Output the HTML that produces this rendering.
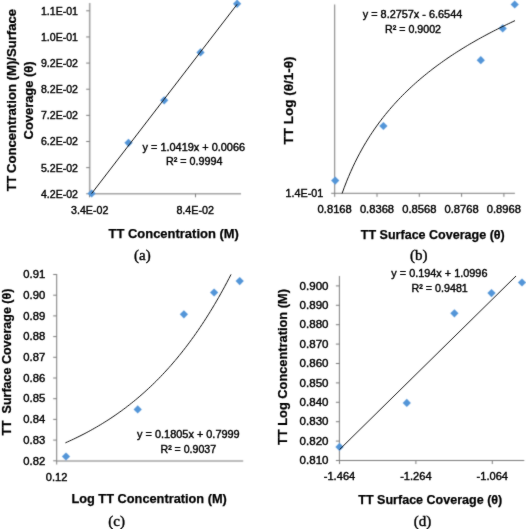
<!DOCTYPE html>
<html><head><meta charset="utf-8"><title>Adsorption isotherm plots</title>
<style>
html,body{margin:0;padding:0;background:#fff;}
body{width:526px;height:529px;overflow:hidden;font-family:"Liberation Sans",sans-serif;}
svg{display:block;}
</style></head><body>
<svg width="526" height="529" viewBox="0 0 526 529">
<defs><filter id="tsoft" x="0" y="0" width="526" height="529" filterUnits="userSpaceOnUse"><feConvolveMatrix order="3" kernelMatrix="1 3 1 3 40 3 1 3 1" divisor="56" edgeMode="duplicate" preserveAlpha="false"/></filter><filter id="soft" x="0" y="0" width="526" height="529" filterUnits="userSpaceOnUse"><feConvolveMatrix order="3" kernelMatrix="1 5 1 5 24 5 1 5 1" divisor="48" edgeMode="duplicate" preserveAlpha="false"/></filter></defs>
<rect width="526" height="529" fill="#fff"/>
<g filter="url(#soft)">
<line x1="89.7" y1="3" x2="89.7" y2="193.8" stroke="#a4a4a4" stroke-width="1.6"/>
<line x1="89.7" y1="193.8" x2="241" y2="193.8" stroke="#a4a4a4" stroke-width="1.6"/>
<line x1="86.2" y1="10.8" x2="89.7" y2="10.8" stroke="#7c7c7c" stroke-width="1.0"/>
<line x1="86.2" y1="36.94" x2="89.7" y2="36.94" stroke="#7c7c7c" stroke-width="1.0"/>
<line x1="86.2" y1="63.08" x2="89.7" y2="63.08" stroke="#7c7c7c" stroke-width="1.0"/>
<line x1="86.2" y1="89.22" x2="89.7" y2="89.22" stroke="#7c7c7c" stroke-width="1.0"/>
<line x1="86.2" y1="115.36" x2="89.7" y2="115.36" stroke="#7c7c7c" stroke-width="1.0"/>
<line x1="86.2" y1="141.5" x2="89.7" y2="141.5" stroke="#7c7c7c" stroke-width="1.0"/>
<line x1="86.2" y1="167.64000000000001" x2="89.7" y2="167.64000000000001" stroke="#7c7c7c" stroke-width="1.0"/>
<line x1="86.2" y1="193.78000000000003" x2="89.7" y2="193.78000000000003" stroke="#7c7c7c" stroke-width="1.0"/>
<line x1="89.5" y1="193.8" x2="89.5" y2="197.3" stroke="#7c7c7c" stroke-width="1.0"/>
<line x1="195.5" y1="193.8" x2="195.5" y2="197.3" stroke="#7c7c7c" stroke-width="1.0"/>
<path d="M91.6 189.4L95.69999999999999 193.5L91.6 197.6L87.5 193.5Z" fill="#5295D8"/>
<path d="M128.5 138.70000000000002L132.6 142.8L128.5 146.9L124.4 142.8Z" fill="#5295D8"/>
<path d="M164.2 96.2L168.29999999999998 100.3L164.2 104.39999999999999L160.1 100.3Z" fill="#5295D8"/>
<path d="M200.5 48.3L204.6 52.4L200.5 56.5L196.4 52.4Z" fill="#5295D8"/>
<path d="M237.1 -0.2999999999999998L241.2 3.8L237.1 7.8999999999999995L233.0 3.8Z" fill="#5295D8"/>
<line x1="334.7" y1="4.5" x2="334.7" y2="193.3" stroke="#7c7c7c" stroke-width="1.0"/>
<line x1="334.7" y1="193.3" x2="514.9" y2="193.3" stroke="#7c7c7c" stroke-width="1.0"/>
<line x1="331.2" y1="193.3" x2="334.7" y2="193.3" stroke="#7c7c7c" stroke-width="1.0"/>
<line x1="334.7" y1="193.3" x2="334.7" y2="196.8" stroke="#7c7c7c" stroke-width="1.0"/>
<line x1="377.0" y1="193.3" x2="377.0" y2="196.8" stroke="#7c7c7c" stroke-width="1.0"/>
<line x1="419.29999999999995" y1="193.3" x2="419.29999999999995" y2="196.8" stroke="#7c7c7c" stroke-width="1.0"/>
<line x1="461.59999999999997" y1="193.3" x2="461.59999999999997" y2="196.8" stroke="#7c7c7c" stroke-width="1.0"/>
<line x1="503.9" y1="193.3" x2="503.9" y2="196.8" stroke="#7c7c7c" stroke-width="1.0"/>
<path d="M335.2 176.5L339.3 180.6L335.2 184.7L331.09999999999997 180.6Z" fill="#5295D8"/>
<path d="M383.4 121.9L387.5 126L383.4 130.1L379.29999999999995 126Z" fill="#5295D8"/>
<path d="M480.8 56.1L484.90000000000003 60.2L480.8 64.3L476.7 60.2Z" fill="#5295D8"/>
<path d="M502.7 24.299999999999997L506.8 28.4L502.7 32.5L498.59999999999997 28.4Z" fill="#5295D8"/>
<path d="M514.7 0.40000000000000036L518.8000000000001 4.5L514.7 8.6L510.6 4.5Z" fill="#5295D8"/>
<line x1="56.7" y1="274" x2="56.7" y2="461" stroke="#7c7c7c" stroke-width="1.0"/>
<line x1="56.7" y1="461" x2="243.2" y2="461" stroke="#a4a4a4" stroke-width="1.6"/>
<line x1="53.2" y1="274.5" x2="56.7" y2="274.5" stroke="#7c7c7c" stroke-width="1.0"/>
<line x1="53.2" y1="295.2" x2="56.7" y2="295.2" stroke="#7c7c7c" stroke-width="1.0"/>
<line x1="53.2" y1="315.9" x2="56.7" y2="315.9" stroke="#7c7c7c" stroke-width="1.0"/>
<line x1="53.2" y1="336.6" x2="56.7" y2="336.6" stroke="#7c7c7c" stroke-width="1.0"/>
<line x1="53.2" y1="357.3" x2="56.7" y2="357.3" stroke="#7c7c7c" stroke-width="1.0"/>
<line x1="53.2" y1="378.0" x2="56.7" y2="378.0" stroke="#7c7c7c" stroke-width="1.0"/>
<line x1="53.2" y1="398.7" x2="56.7" y2="398.7" stroke="#7c7c7c" stroke-width="1.0"/>
<line x1="53.2" y1="419.4" x2="56.7" y2="419.4" stroke="#7c7c7c" stroke-width="1.0"/>
<line x1="53.2" y1="440.1" x2="56.7" y2="440.1" stroke="#7c7c7c" stroke-width="1.0"/>
<line x1="53.2" y1="460.79999999999995" x2="56.7" y2="460.79999999999995" stroke="#7c7c7c" stroke-width="1.0"/>
<line x1="56.7" y1="461" x2="56.7" y2="464.5" stroke="#7c7c7c" stroke-width="1.0"/>
<path d="M66 452.4L70.1 456.5L66 460.6L61.9 456.5Z" fill="#5295D8"/>
<path d="M137.7 405.29999999999995L141.79999999999998 409.4L137.7 413.5L133.6 409.4Z" fill="#5295D8"/>
<path d="M183.9 310.2L188.0 314.3L183.9 318.40000000000003L179.8 314.3Z" fill="#5295D8"/>
<path d="M214.1 288.4L218.2 292.5L214.1 296.6L210.0 292.5Z" fill="#5295D8"/>
<path d="M239.7 277.0L243.79999999999998 281.1L239.7 285.20000000000005L235.6 281.1Z" fill="#5295D8"/>
<line x1="339.4" y1="276" x2="339.4" y2="460.5" stroke="#7c7c7c" stroke-width="1.0"/>
<line x1="339.4" y1="460.5" x2="524.3" y2="460.5" stroke="#7c7c7c" stroke-width="1.0"/>
<line x1="335.9" y1="285.9" x2="339.4" y2="285.9" stroke="#7c7c7c" stroke-width="1.0"/>
<line x1="335.9" y1="305.29999999999995" x2="339.4" y2="305.29999999999995" stroke="#7c7c7c" stroke-width="1.0"/>
<line x1="335.9" y1="324.7" x2="339.4" y2="324.7" stroke="#7c7c7c" stroke-width="1.0"/>
<line x1="335.9" y1="344.09999999999997" x2="339.4" y2="344.09999999999997" stroke="#7c7c7c" stroke-width="1.0"/>
<line x1="335.9" y1="363.5" x2="339.4" y2="363.5" stroke="#7c7c7c" stroke-width="1.0"/>
<line x1="335.9" y1="382.9" x2="339.4" y2="382.9" stroke="#7c7c7c" stroke-width="1.0"/>
<line x1="335.9" y1="402.29999999999995" x2="339.4" y2="402.29999999999995" stroke="#7c7c7c" stroke-width="1.0"/>
<line x1="335.9" y1="421.69999999999993" x2="339.4" y2="421.69999999999993" stroke="#7c7c7c" stroke-width="1.0"/>
<line x1="335.9" y1="441.09999999999997" x2="339.4" y2="441.09999999999997" stroke="#7c7c7c" stroke-width="1.0"/>
<line x1="335.9" y1="460.5" x2="339.4" y2="460.5" stroke="#7c7c7c" stroke-width="1.0"/>
<line x1="339.5" y1="460.5" x2="339.5" y2="464.0" stroke="#7c7c7c" stroke-width="1.0"/>
<line x1="415.9" y1="460.5" x2="415.9" y2="464.0" stroke="#7c7c7c" stroke-width="1.0"/>
<line x1="492.3" y1="460.5" x2="492.3" y2="464.0" stroke="#7c7c7c" stroke-width="1.0"/>
<path d="M339.5 442.79999999999995L343.6 446.9L339.5 451.0L335.4 446.9Z" fill="#5295D8"/>
<path d="M406.8 398.79999999999995L410.90000000000003 402.9L406.8 407.0L402.7 402.9Z" fill="#5295D8"/>
<path d="M454.4 309.2L458.5 313.3L454.4 317.40000000000003L450.29999999999995 313.3Z" fill="#5295D8"/>
<path d="M491.5 289.0L495.6 293.1L491.5 297.20000000000005L487.4 293.1Z" fill="#5295D8"/>
<path d="M522 278.4L526.1 282.5L522 286.6L517.9 282.5Z" fill="#5295D8"/>
</g>
<g filter="url(#tsoft)">
<path d="M91.60 193.60 L237.20 4.20" fill="none" stroke="#151515" stroke-width="1.0" stroke-linejoin="round"/>
<path d="M342.10 193.44 L344.26 187.49 L346.42 181.89 L348.58 176.61 L350.75 171.60 L352.91 166.84 L355.07 162.31 L357.23 157.99 L359.39 153.86 L361.55 149.89 L363.71 146.09 L365.87 142.43 L368.04 138.91 L370.20 135.52 L372.36 132.24 L374.52 129.07 L376.68 126.01 L378.84 123.04 L381.00 120.16 L383.16 117.36 L385.33 114.64 L387.49 112.01 L389.65 109.44 L391.81 106.94 L393.97 104.50 L396.13 102.12 L398.29 99.81 L400.45 97.55 L402.62 95.34 L404.78 93.18 L406.94 91.07 L409.10 89.00 L411.26 86.98 L413.42 85.00 L415.58 83.06 L417.74 81.16 L419.91 79.30 L422.07 77.47 L424.23 75.68 L426.39 73.92 L428.55 72.19 L430.71 70.50 L432.87 68.83 L435.03 67.19 L437.19 65.58 L439.36 64.00 L441.52 62.44 L443.68 60.91 L445.84 59.40 L448.00 57.92 L450.16 56.46 L452.32 55.02 L454.49 53.60 L456.65 52.21 L458.81 50.83 L460.97 49.47 L463.13 48.13 L465.29 46.82 L467.45 45.51 L469.61 44.23 L471.77 42.97 L473.94 41.72 L476.10 40.48 L478.26 39.26 L480.42 38.06 L482.58 36.88 L484.74 35.70 L486.90 34.55 L489.06 33.40 L491.23 32.27 L493.39 31.15 L495.55 30.05 L497.71 28.96 L499.87 27.88 L502.03 26.81 L504.19 25.76 L506.36 24.71 L508.52 23.68 L510.68 22.66 L512.84 21.65 L515.00 20.65" fill="none" stroke="#151515" stroke-width="1.0" stroke-linejoin="round"/>
<path d="M65.40 442.83 L67.47 441.91 L69.54 440.98 L71.61 440.02 L73.68 439.06 L75.75 438.07 L77.82 437.06 L79.89 436.04 L81.96 434.99 L84.03 433.93 L86.10 432.84 L88.17 431.74 L90.24 430.61 L92.31 429.46 L94.38 428.29 L96.45 427.10 L98.52 425.89 L100.59 424.65 L102.66 423.39 L104.73 422.11 L106.80 420.80 L108.87 419.47 L110.94 418.11 L113.01 416.73 L115.08 415.32 L117.15 413.88 L119.22 412.42 L121.29 410.93 L123.36 409.41 L125.43 407.86 L127.50 406.28 L129.57 404.67 L131.64 403.04 L133.71 401.37 L135.78 399.67 L137.85 397.94 L139.92 396.17 L141.99 394.37 L144.06 392.54 L146.13 390.68 L148.20 388.77 L150.27 386.84 L152.34 384.86 L154.41 382.85 L156.48 380.80 L158.55 378.71 L160.62 376.58 L162.69 374.42 L164.76 372.21 L166.83 369.96 L168.90 367.66 L170.97 365.33 L173.04 362.94 L175.11 360.52 L177.18 358.05 L179.25 355.53 L181.32 352.96 L183.39 350.35 L185.46 347.68 L187.53 344.97 L189.60 342.21 L191.67 339.39 L193.74 336.52 L195.81 333.59 L197.88 330.61 L199.95 327.57 L202.02 324.48 L204.09 321.33 L206.16 318.12 L208.23 314.84 L210.30 311.51 L212.37 308.11 L214.44 304.65 L216.51 301.12 L218.58 297.53 L220.65 293.87 L222.72 290.14 L224.79 286.34 L226.86 282.46 L228.93 278.52 L231.00 274.49" fill="none" stroke="#151515" stroke-width="1.0" stroke-linejoin="round"/>
<path d="M339.50 449.60 L516.00 276.00" fill="none" stroke="#151515" stroke-width="1.0" stroke-linejoin="round"/>
<text x="78" y="14.700000000000001" font-family='"Liberation Sans", sans-serif' font-size="10.8" text-anchor="end" stroke="#000" stroke-width="0.4" textLength="37" lengthAdjust="spacingAndGlyphs" fill="#000">1.1E-01</text>
<text x="78" y="40.839999999999996" font-family='"Liberation Sans", sans-serif' font-size="10.8" text-anchor="end" stroke="#000" stroke-width="0.4" textLength="37" lengthAdjust="spacingAndGlyphs" fill="#000">1.0E-01</text>
<text x="78" y="66.98" font-family='"Liberation Sans", sans-serif' font-size="10.8" text-anchor="end" stroke="#000" stroke-width="0.4" textLength="37" lengthAdjust="spacingAndGlyphs" fill="#000">9.2E-02</text>
<text x="78" y="93.12" font-family='"Liberation Sans", sans-serif' font-size="10.8" text-anchor="end" stroke="#000" stroke-width="0.4" textLength="37" lengthAdjust="spacingAndGlyphs" fill="#000">8.2E-02</text>
<text x="78" y="119.26" font-family='"Liberation Sans", sans-serif' font-size="10.8" text-anchor="end" stroke="#000" stroke-width="0.4" textLength="37" lengthAdjust="spacingAndGlyphs" fill="#000">7.2E-02</text>
<text x="78" y="145.4" font-family='"Liberation Sans", sans-serif' font-size="10.8" text-anchor="end" stroke="#000" stroke-width="0.4" textLength="37" lengthAdjust="spacingAndGlyphs" fill="#000">6.2E-02</text>
<text x="78" y="171.54000000000002" font-family='"Liberation Sans", sans-serif' font-size="10.8" text-anchor="end" stroke="#000" stroke-width="0.4" textLength="37" lengthAdjust="spacingAndGlyphs" fill="#000">5.2E-02</text>
<text x="78" y="197.68000000000004" font-family='"Liberation Sans", sans-serif' font-size="10.8" text-anchor="end" stroke="#000" stroke-width="0.4" textLength="37" lengthAdjust="spacingAndGlyphs" fill="#000">4.2E-02</text>
<text x="89.7" y="213.7" font-family='"Liberation Sans", sans-serif' font-size="10.8" text-anchor="middle" stroke="#000" stroke-width="0.4" textLength="37.4" lengthAdjust="spacingAndGlyphs" fill="#000">3.4E-02</text>
<text x="195.2" y="213.7" font-family='"Liberation Sans", sans-serif' font-size="10.8" text-anchor="middle" stroke="#000" stroke-width="0.4" textLength="37.6" lengthAdjust="spacingAndGlyphs" fill="#000">8.4E-02</text>
<text x="193.8" y="150.5" font-family='"Liberation Sans", sans-serif' font-size="10.8" text-anchor="middle" stroke="#000" stroke-width="0.4" textLength="102.5" lengthAdjust="spacingAndGlyphs" fill="#000">y = 1.0419x + 0.0066</text>
<text x="194.2" y="164.9" font-family='"Liberation Sans", sans-serif' font-size="10.8" text-anchor="middle" stroke="#000" stroke-width="0.4" textLength="56.5" lengthAdjust="spacingAndGlyphs" fill="#000">R² = 0.9994</text>
<text x="173.7" y="237.9" font-family='"Liberation Sans", sans-serif' font-size="13.3" text-anchor="middle" font-weight="bold" stroke="#000" stroke-width="0.25" textLength="130.3" lengthAdjust="spacingAndGlyphs" fill="#000">TT Concentration (M)</text>
<text x="142.4" y="260.2" font-family='"Liberation Serif", serif' font-size="15" text-anchor="middle" stroke="#000" stroke-width="0.4" fill="#000">(a)</text>
<text x="15.7" y="183.5" font-family='"Liberation Sans", sans-serif' font-size="13.3" text-anchor="middle" font-weight="bold" stroke="#000" stroke-width="0.25" textLength="15.4" lengthAdjust="spacingAndGlyphs" transform="rotate(-90 15.7 183.5)" fill="#000">TT</text>
<text x="15.7" y="91.0" font-family='"Liberation Sans", sans-serif' font-size="13.3" text-anchor="middle" font-weight="bold" stroke="#000" stroke-width="0.25" textLength="164.2" lengthAdjust="spacingAndGlyphs" transform="rotate(-90 15.7 91.0)" fill="#000">Concentration (M)/Surface</text>
<text x="32.8" y="100.45" font-family='"Liberation Sans", sans-serif' font-size="13.3" text-anchor="middle" font-weight="bold" stroke="#000" stroke-width="0.25" textLength="78" lengthAdjust="spacingAndGlyphs" transform="rotate(-90 32.8 100.45)" fill="#000">Coverage (θ)</text>
<text x="323.2" y="196.7" font-family='"Liberation Sans", sans-serif' font-size="10.8" text-anchor="end" stroke="#000" stroke-width="0.4" textLength="37.6" lengthAdjust="spacingAndGlyphs" fill="#000">1.4E-01</text>
<text x="334.7" y="213.4" font-family='"Liberation Sans", sans-serif' font-size="10.8" text-anchor="middle" stroke="#000" stroke-width="0.4" textLength="34.2" lengthAdjust="spacingAndGlyphs" fill="#000">0.8168</text>
<text x="377.0" y="213.4" font-family='"Liberation Sans", sans-serif' font-size="10.8" text-anchor="middle" stroke="#000" stroke-width="0.4" textLength="34.2" lengthAdjust="spacingAndGlyphs" fill="#000">0.8368</text>
<text x="419.29999999999995" y="213.4" font-family='"Liberation Sans", sans-serif' font-size="10.8" text-anchor="middle" stroke="#000" stroke-width="0.4" textLength="34.2" lengthAdjust="spacingAndGlyphs" fill="#000">0.8568</text>
<text x="461.59999999999997" y="213.4" font-family='"Liberation Sans", sans-serif' font-size="10.8" text-anchor="middle" stroke="#000" stroke-width="0.4" textLength="34.2" lengthAdjust="spacingAndGlyphs" fill="#000">0.8768</text>
<text x="503.9" y="213.4" font-family='"Liberation Sans", sans-serif' font-size="10.8" text-anchor="middle" stroke="#000" stroke-width="0.4" textLength="34.2" lengthAdjust="spacingAndGlyphs" fill="#000">0.8968</text>
<text x="412.5" y="18.3" font-family='"Liberation Sans", sans-serif' font-size="10.8" text-anchor="middle" stroke="#000" stroke-width="0.4" textLength="99.5" lengthAdjust="spacingAndGlyphs" fill="#000">y = 8.2757x - 6.6544</text>
<text x="413" y="32.9" font-family='"Liberation Sans", sans-serif' font-size="10.8" text-anchor="middle" stroke="#000" stroke-width="0.4" textLength="56" lengthAdjust="spacingAndGlyphs" fill="#000">R² = 0.9002</text>
<text x="432.8" y="238.6" font-family='"Liberation Sans", sans-serif' font-size="13.3" text-anchor="middle" font-weight="bold" stroke="#000" stroke-width="0.25" textLength="144" lengthAdjust="spacingAndGlyphs" fill="#000">TT Surface Coverage (θ)</text>
<text x="418.8" y="260.2" font-family='"Liberation Serif", serif' font-size="15" text-anchor="middle" stroke="#000" stroke-width="0.4" fill="#000">(b)</text>
<text x="293" y="100.55" font-family='"Liberation Sans", sans-serif' font-size="13.3" text-anchor="middle" font-weight="bold" stroke="#000" stroke-width="0.25" textLength="88" lengthAdjust="spacingAndGlyphs" transform="rotate(-90 293 100.55)" fill="#000">TT Log (θ/1-θ)</text>
<text x="45.2" y="278.2" font-family='"Liberation Sans", sans-serif' font-size="10.8" text-anchor="end" stroke="#000" stroke-width="0.4" textLength="21.9" lengthAdjust="spacingAndGlyphs" fill="#000">0.91</text>
<text x="45.2" y="298.9" font-family='"Liberation Sans", sans-serif' font-size="10.8" text-anchor="end" stroke="#000" stroke-width="0.4" textLength="21.9" lengthAdjust="spacingAndGlyphs" fill="#000">0.90</text>
<text x="45.2" y="319.59999999999997" font-family='"Liberation Sans", sans-serif' font-size="10.8" text-anchor="end" stroke="#000" stroke-width="0.4" textLength="21.9" lengthAdjust="spacingAndGlyphs" fill="#000">0.89</text>
<text x="45.2" y="340.3" font-family='"Liberation Sans", sans-serif' font-size="10.8" text-anchor="end" stroke="#000" stroke-width="0.4" textLength="21.9" lengthAdjust="spacingAndGlyphs" fill="#000">0.88</text>
<text x="45.2" y="361.0" font-family='"Liberation Sans", sans-serif' font-size="10.8" text-anchor="end" stroke="#000" stroke-width="0.4" textLength="21.9" lengthAdjust="spacingAndGlyphs" fill="#000">0.87</text>
<text x="45.2" y="381.7" font-family='"Liberation Sans", sans-serif' font-size="10.8" text-anchor="end" stroke="#000" stroke-width="0.4" textLength="21.9" lengthAdjust="spacingAndGlyphs" fill="#000">0.86</text>
<text x="45.2" y="402.4" font-family='"Liberation Sans", sans-serif' font-size="10.8" text-anchor="end" stroke="#000" stroke-width="0.4" textLength="21.9" lengthAdjust="spacingAndGlyphs" fill="#000">0.85</text>
<text x="45.2" y="423.09999999999997" font-family='"Liberation Sans", sans-serif' font-size="10.8" text-anchor="end" stroke="#000" stroke-width="0.4" textLength="21.9" lengthAdjust="spacingAndGlyphs" fill="#000">0.84</text>
<text x="45.2" y="443.8" font-family='"Liberation Sans", sans-serif' font-size="10.8" text-anchor="end" stroke="#000" stroke-width="0.4" textLength="21.9" lengthAdjust="spacingAndGlyphs" fill="#000">0.83</text>
<text x="45.2" y="464.49999999999994" font-family='"Liberation Sans", sans-serif' font-size="10.8" text-anchor="end" stroke="#000" stroke-width="0.4" textLength="21.9" lengthAdjust="spacingAndGlyphs" fill="#000">0.82</text>
<text x="56.6" y="480.6" font-family='"Liberation Sans", sans-serif' font-size="10.8" text-anchor="middle" stroke="#000" stroke-width="0.4" textLength="21.5" lengthAdjust="spacingAndGlyphs" fill="#000">0.12</text>
<text x="188.4" y="437.8" font-family='"Liberation Sans", sans-serif' font-size="10.8" text-anchor="middle" stroke="#000" stroke-width="0.4" textLength="102.6" lengthAdjust="spacingAndGlyphs" fill="#000">y = 0.1805x + 0.7999</text>
<text x="188.3" y="452.6" font-family='"Liberation Sans", sans-serif' font-size="10.8" text-anchor="middle" stroke="#000" stroke-width="0.4" textLength="55.6" lengthAdjust="spacingAndGlyphs" fill="#000">R² = 0.9037</text>
<text x="149.15" y="503.3" font-family='"Liberation Sans", sans-serif' font-size="13.3" text-anchor="middle" font-weight="bold" stroke="#000" stroke-width="0.25" textLength="155.5" lengthAdjust="spacingAndGlyphs" fill="#000">Log TT Concentration (M)</text>
<text x="116.7" y="525.5" font-family='"Liberation Serif", serif' font-size="15" text-anchor="middle" stroke="#000" stroke-width="0.4" fill="#000">(c)</text>
<text x="10.8" y="362.1" font-family='"Liberation Sans", sans-serif' font-size="13.3" text-anchor="middle" font-weight="bold" stroke="#000" stroke-width="0.25" textLength="147" lengthAdjust="spacingAndGlyphs" transform="rotate(-90 10.8 362.1)" fill="#000">TT&#160; Surface Coverage (θ)</text>
<text x="328.5" y="289.59999999999997" font-family='"Liberation Sans", sans-serif' font-size="10.8" text-anchor="end" stroke="#000" stroke-width="0.4" textLength="28.9" lengthAdjust="spacingAndGlyphs" fill="#000">0.900</text>
<text x="328.5" y="308.99999999999994" font-family='"Liberation Sans", sans-serif' font-size="10.8" text-anchor="end" stroke="#000" stroke-width="0.4" textLength="28.9" lengthAdjust="spacingAndGlyphs" fill="#000">0.890</text>
<text x="328.5" y="328.4" font-family='"Liberation Sans", sans-serif' font-size="10.8" text-anchor="end" stroke="#000" stroke-width="0.4" textLength="28.9" lengthAdjust="spacingAndGlyphs" fill="#000">0.880</text>
<text x="328.5" y="347.79999999999995" font-family='"Liberation Sans", sans-serif' font-size="10.8" text-anchor="end" stroke="#000" stroke-width="0.4" textLength="28.9" lengthAdjust="spacingAndGlyphs" fill="#000">0.870</text>
<text x="328.5" y="367.2" font-family='"Liberation Sans", sans-serif' font-size="10.8" text-anchor="end" stroke="#000" stroke-width="0.4" textLength="28.9" lengthAdjust="spacingAndGlyphs" fill="#000">0.860</text>
<text x="328.5" y="386.59999999999997" font-family='"Liberation Sans", sans-serif' font-size="10.8" text-anchor="end" stroke="#000" stroke-width="0.4" textLength="28.9" lengthAdjust="spacingAndGlyphs" fill="#000">0.850</text>
<text x="328.5" y="405.99999999999994" font-family='"Liberation Sans", sans-serif' font-size="10.8" text-anchor="end" stroke="#000" stroke-width="0.4" textLength="28.9" lengthAdjust="spacingAndGlyphs" fill="#000">0.840</text>
<text x="328.5" y="425.3999999999999" font-family='"Liberation Sans", sans-serif' font-size="10.8" text-anchor="end" stroke="#000" stroke-width="0.4" textLength="28.9" lengthAdjust="spacingAndGlyphs" fill="#000">0.830</text>
<text x="328.5" y="444.79999999999995" font-family='"Liberation Sans", sans-serif' font-size="10.8" text-anchor="end" stroke="#000" stroke-width="0.4" textLength="28.9" lengthAdjust="spacingAndGlyphs" fill="#000">0.820</text>
<text x="328.5" y="464.2" font-family='"Liberation Sans", sans-serif' font-size="10.8" text-anchor="end" stroke="#000" stroke-width="0.4" textLength="28.9" lengthAdjust="spacingAndGlyphs" fill="#000">0.810</text>
<text x="339.5" y="480.4" font-family='"Liberation Sans", sans-serif' font-size="10.8" text-anchor="middle" stroke="#000" stroke-width="0.4" textLength="31.5" lengthAdjust="spacingAndGlyphs" fill="#000">-1.464</text>
<text x="415.9" y="480.4" font-family='"Liberation Sans", sans-serif' font-size="10.8" text-anchor="middle" stroke="#000" stroke-width="0.4" textLength="31.5" lengthAdjust="spacingAndGlyphs" fill="#000">-1.264</text>
<text x="492.3" y="480.4" font-family='"Liberation Sans", sans-serif' font-size="10.8" text-anchor="middle" stroke="#000" stroke-width="0.4" textLength="31.5" lengthAdjust="spacingAndGlyphs" fill="#000">-1.064</text>
<text x="439.4" y="277.2" font-family='"Liberation Sans", sans-serif' font-size="10.8" text-anchor="middle" stroke="#000" stroke-width="0.4" textLength="96.1" lengthAdjust="spacingAndGlyphs" fill="#000">y = 0.194x + 1.0996</text>
<text x="439.7" y="291.9" font-family='"Liberation Sans", sans-serif' font-size="10.8" text-anchor="middle" stroke="#000" stroke-width="0.4" textLength="56.2" lengthAdjust="spacingAndGlyphs" fill="#000">R² = 0.9481</text>
<text x="430.3" y="504" font-family='"Liberation Sans", sans-serif' font-size="13.3" text-anchor="middle" font-weight="bold" stroke="#000" stroke-width="0.25" textLength="144" lengthAdjust="spacingAndGlyphs" fill="#000">TT Surface Coverage (θ)</text>
<text x="422.5" y="526" font-family='"Liberation Serif", serif' font-size="15" text-anchor="middle" stroke="#000" stroke-width="0.4" fill="#000">(d)</text>
<text x="287" y="367" font-family='"Liberation Sans", sans-serif' font-size="13.3" text-anchor="middle" font-weight="bold" stroke="#000" stroke-width="0.25" textLength="156" lengthAdjust="spacingAndGlyphs" transform="rotate(-90 287 367)" fill="#000">TT Log Concentration (M)</text>
</g>
</svg>
</body></html>
